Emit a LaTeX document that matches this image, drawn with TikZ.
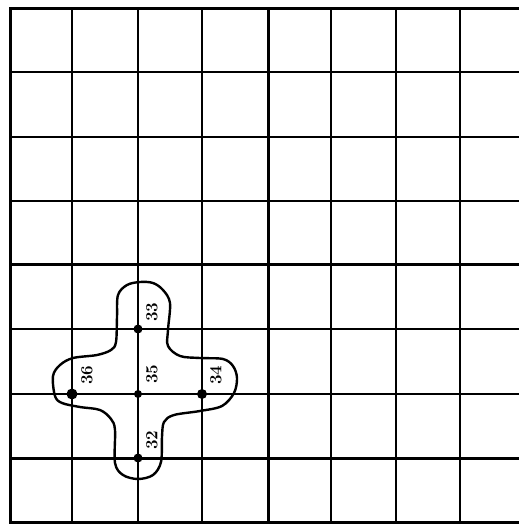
\documentclass[tikz,border=0pt]{standalone}
\begin{document}
\begin{tikzpicture}[x=1pt,y=-1pt,
  gridline/.style={line width=2.5pt,line cap=rect},
  boldline/.style={line width=3pt,line cap=rect},
  outline/.style={line width=2.4pt,line join=round},
  dot/.style={circle,fill=black,inner sep=0pt,minimum size=#1},
  lbl/.style={rotate=90,font=\fontsize{17}{17}\selectfont\bfseries,inner sep=0pt}]
\useasboundingbox (0,0) rectangle (519,525);
% horizontal grid lines
\foreach \y in {72,137,201,329,394}
  \draw[gridline] (10,\y) -- (519,\y);
\foreach \y in {8,264,458,522}
  \draw[boldline] (10,\y) -- (519,\y);
% vertical grid lines
\foreach \x in {72,138,202,331,396,460}
  \draw[gridline] (\x,8) -- (\x,522);
\foreach \x in {10,268}
  \draw[boldline] (\x,8) -- (\x,522);
% cross-shaped outline
\draw[outline] plot[smooth cycle,tension=0.55] coordinates {
  (117,317) (118,295) (127,285) (140,282) (153,283) (163,290) (170,303)
  (168,330) (168,346) (180,356) (200,358) (223,359) (233,366) (237,378)
  (234,393) (222,406) (200,411) (174,415) (164,422) (162,437) (161,462)
  (153,475) (138,479) (123,475) (115,463) (115,430) (111,419) (100,410)
  (80,407) (62,403) (55,396) (53,376) (60,365) (73,358) (97,355)
  (111,350) (116,342)};
% points
\node[dot=11pt] (p36) at (72,394) {};
\node[dot=9pt] (p33) at (138,329) {};
\node[dot=8pt] (p35) at (138,394) {};
\node[dot=10pt] (p34) at (202,394) {};
\node[dot=9pt] (p32) at (138,458) {};
% labels
\node[lbl] (l33) at (152,312) {33};
\node[lbl] (l35) at (152,374) {35};
\node[lbl] (l36) at (87,375) {36};
\node[lbl] (l34) at (216,375) {34};
\node[lbl] (l32) at (152,440) {32};
\end{tikzpicture}
\end{document}
